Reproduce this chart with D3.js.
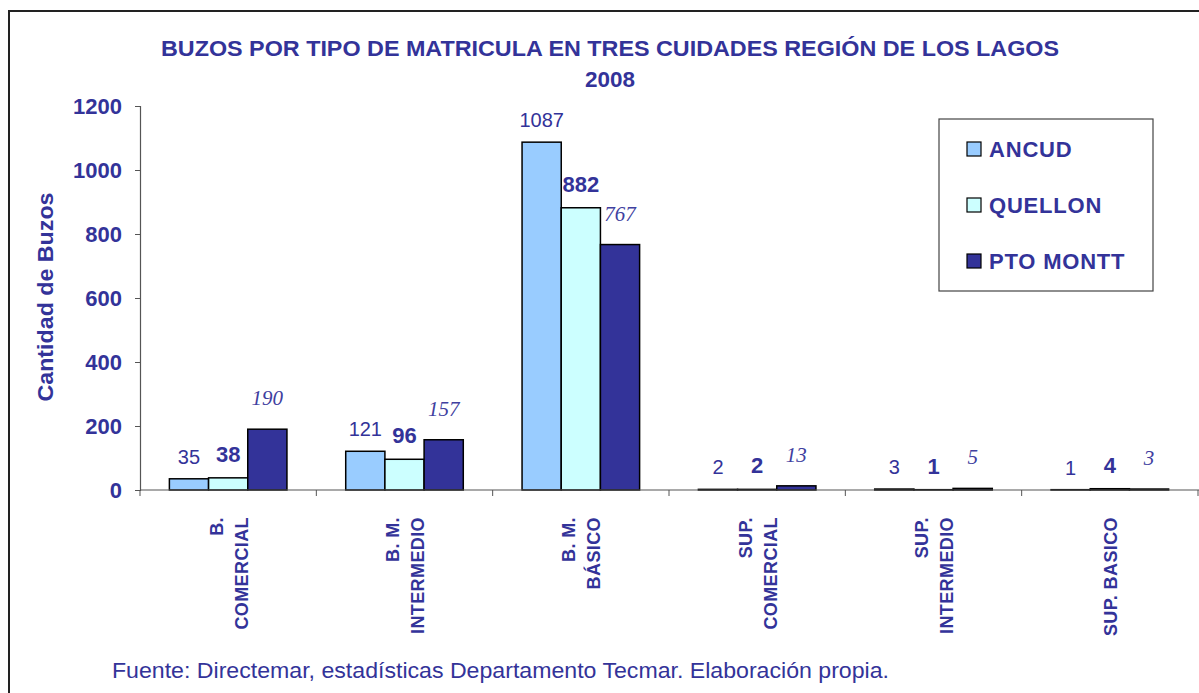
<!DOCTYPE html>
<html><head><meta charset="utf-8">
<script src="https://cdn.jsdelivr.net/npm/d3@7"></script>
<style>body{margin:0;background:#fff}svg{display:block}</style>
</head><body>
<svg id="c" width="1199" height="693"></svg>
<script>
const categories = [["B.","COMERCIAL"],["B. M.","INTERMEDIO"],["B. M.","BÁSICO"],["SUP.","COMERCIAL"],["SUP.","INTERMEDIO"],["SUP. BASICO"]];
const seriesNames = ["ANCUD","QUELLON","PTO MONTT"];
const ancud = [35,121,1087,2,3,1];
const quellon = [38,96,882,2,1,4];
const ptoMontt = [190,157,767,13,5,3];
const yTicks = [0,200,400,600,800,1000,1200];
const titleLines = ["BUZOS POR TIPO DE MATRICULA EN TRES CUIDADES REGIÓN DE LOS LAGOS","2008"];
const yTitle = "Cantidad de Buzos";
const source = "Fuente: Directemar, estadísticas Departamento Tecmar. Elaboración propia.";

const ink = "#333399";
const colors = ["#99CCFF","#CCFFFF","#333399"];
const sans = "Arial, 'Liberation Sans', sans-serif";
const labelStyle = [
  {family:sans, size:20, weight:"normal", style:"normal", off:15, fill:ink},
  {family:sans, size:22, weight:"bold", style:"normal", off:16, fill:ink},
  {family:"'Times New Roman', 'Liberation Serif', serif", size:21, weight:"normal", style:"italic", off:24, fill:"#4040a0"}
];
const series = [ancud, quellon, ptoMontt];

const svg = d3.select("#c");
svg.append("rect").attr("x",9).attr("y",11).attr("width",1199).attr("height",700)
  .attr("fill","#fff").attr("stroke","#222").attr("stroke-width",2);

const x0 = d3.scaleBand().domain(d3.range(categories.length)).range([140,1198]).paddingInner(0).paddingOuter(0);
const x1 = d3.scaleBand().domain(d3.range(3)).range([0,x0.bandwidth()]).paddingOuter(0.75).paddingInner(0);
const y = d3.scaleLinear().domain([0,1200]).range([490,106]);

// title
svg.append("text").attr("x",610).attr("y",56).attr("text-anchor","middle")
  .attr("font-family",sans).attr("font-weight","bold").attr("font-size",22)
  .attr("fill",ink).attr("textLength",898).attr("lengthAdjust","spacingAndGlyphs").text(titleLines[0]);
svg.append("text").attr("x",610).attr("y",87).attr("text-anchor","middle")
  .attr("font-family",sans).attr("font-weight","bold").attr("font-size",22)
  .attr("fill",ink).attr("textLength",50).attr("lengthAdjust","spacingAndGlyphs").text(titleLines[1]);

// y axis
const yAxis = svg.append("g").attr("transform","translate(140,0)")
  .call(d3.axisLeft(y).tickValues(yTicks).tickSize(5).tickPadding(13).tickFormat(d3.format("d")));
yAxis.select(".domain").attr("stroke","#555").attr("stroke-width",1.2);
yAxis.selectAll(".tick line").attr("stroke","#555");
yAxis.selectAll("text").attr("font-family",sans).attr("font-weight","bold")
  .attr("font-size",22).attr("fill",ink);

svg.append("text").attr("transform","translate(53,297) rotate(-90)").attr("text-anchor","middle")
  .attr("font-family",sans).attr("font-weight","bold").attr("font-size",22)
  .attr("fill",ink).attr("textLength",209).attr("lengthAdjust","spacingAndGlyphs").text(yTitle);

// bars
categories.forEach((c,i)=>{
  series.forEach((s,j)=>{
    const v = s[i];
    const bx = x0(i)+x1(j);
    svg.append("rect").attr("x",bx).attr("y",y(v)).attr("width",x1.bandwidth()).attr("height",Math.max(0,y(0)-y(v)))
      .attr("fill",colors[j]).attr("stroke","#000").attr("stroke-width",1.5);
  });
});

// x axis
const xAxisG = svg.append("g");
xAxisG.append("line").attr("x1",140).attr("x2",1199).attr("y1",490).attr("y2",490).attr("stroke","#555").attr("stroke-width",1.2);
d3.range(categories.length+1).forEach(i=>{
  const xx = i<categories.length ? x0(i) : x0.range()[1];
  xAxisG.append("line").attr("x1",xx).attr("x2",xx).attr("y1",490).attr("y2",496).attr("stroke","#555");
});

// value labels
categories.forEach((c,i)=>{
  series.forEach((s,j)=>{
    const v = s[i], st = labelStyle[j];
    svg.append("text").attr("x",x0(i)+x1(j)+x1.bandwidth()/2).attr("y",y(v)-st.off)
      .attr("text-anchor","middle").attr("font-family",st.family).attr("font-size",st.size)
      .attr("font-weight",st.weight).attr("font-style",st.style).attr("fill",st.fill).text(v);
  });
});

// category labels
categories.forEach((lines,i)=>{
  const cx = x0(i)+x0.bandwidth()/2;
  const lh = 25;
  const n = lines.length;
  lines.forEach((ln,k)=>{
    const xx = cx + (k-(n-1)/2)*lh + 7;
    svg.append("text").attr("transform",`translate(${xx},517) rotate(-90)`).attr("text-anchor","end")
      .attr("font-family",sans).attr("font-weight","bold").attr("font-size",18)
      .attr("letter-spacing",0.4).attr("fill",ink).text(ln);
  });
});

// legend
const lg = svg.append("g");
lg.append("rect").attr("x",939).attr("y",119).attr("width",214).attr("height",172).attr("fill","#fff")
  .attr("stroke","#444").attr("stroke-width",1.2);
seriesNames.forEach((n,j)=>{
  const cy = 149 + j*56;
  lg.append("rect").attr("x",967).attr("y",cy-7).attr("width",14).attr("height",14).attr("fill",colors[j])
    .attr("stroke","#000").attr("stroke-width",1.2);
  lg.append("text").attr("x",989).attr("y",cy+8).attr("font-family",sans)
    .attr("font-weight","bold").attr("font-size",22).attr("letter-spacing",0.8).attr("fill",ink).text(n);
});

// source
svg.append("text").attr("x",112).attr("y",678).attr("font-family",sans)
  .attr("font-size",22).attr("fill",ink).attr("textLength",777).attr("lengthAdjust","spacingAndGlyphs").text(source);
</script>
</body></html>
